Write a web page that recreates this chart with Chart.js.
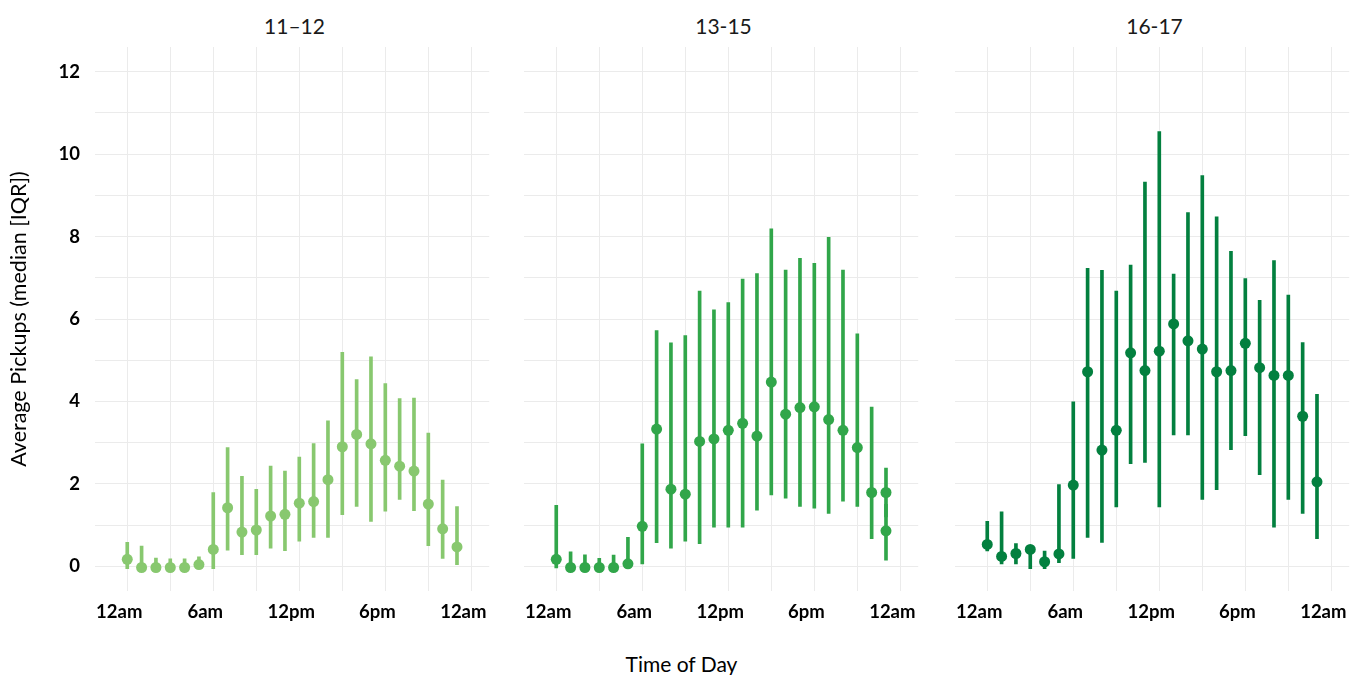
<!DOCTYPE html>
<html lang="en">
<head>
<meta charset="UTF-8">
<title>Average pickups by time of day</title>
<script src="https://cdn.jsdelivr.net/npm/chart.js"></script>
<style>
  body { margin: 0; width: 1351px; height: 675px; overflow: hidden; background: #fff; font-family: Lato, sans-serif; }
  .wrap { position: absolute; top: 0; height: 640px; }
  .facet { position: absolute; top: 13px; font-size: 21px; line-height: 26px; color: #1a1a1a; text-align: center; }
  #xtitle { position: absolute; top: 651px; left: 6px; width: 1351px; text-align: center; font-size: 21px; line-height: 26px; color: #000; }
</style>
</head>
<body>
<div class="facet" style="left:95px;width:399px">11–12</div>
<div class="facet" style="left:524px;width:399px">13-15</div>
<div class="facet" style="left:955px;width:399px">16-17</div>
<div class="wrap" style="left:0;width:505px"><canvas id="c1"></canvas></div>
<div class="wrap" style="left:514px;width:420px"><canvas id="c2"></canvas></div>
<div class="wrap" style="left:945px;width:420px"><canvas id="c3"></canvas></div>
<div id="xtitle">Time of Day</div>
<script>
// hours of the day for each point
const hours = [0,1,2,3,4,5,6,7,8,9,10,11,12,13,14,15,16,17,18,19,20,21,22,23];
const hours2 = [0,1,2,3,4,5,6,7,8,9,10,11,12,13,14,15,16,17,18,19,20,21,22,23,23];

// 11-12
const med1 = [0.17,-0.03,-0.03,-0.03,-0.03,0.04,0.41,1.42,0.83,0.88,1.22,1.26,1.53,1.57,2.10,2.90,3.20,2.97,2.57,2.43,2.31,1.51,0.91,0.47];
const lo1  = [-0.06,-0.03,-0.05,-0.03,-0.03,0.02,-0.06,0.39,0.28,0.28,0.44,0.38,0.61,0.70,0.70,1.25,1.45,1.09,1.34,1.62,1.35,0.50,0.19,0.04];
const hi1  = [0.58,0.49,0.20,0.18,0.18,0.23,1.79,2.88,2.18,1.87,2.43,2.31,2.65,2.98,3.53,5.19,4.53,5.08,4.43,4.07,4.08,3.23,2.09,1.45];

// 13-15 (two values at 11pm)
const med2 = [0.17,-0.03,-0.03,-0.03,-0.03,0.06,0.97,3.33,1.87,1.75,3.03,3.09,3.30,3.47,3.16,4.47,3.69,3.85,3.87,3.56,3.30,2.88,1.79,1.79,0.86];
const lo2  = [-0.04,-0.03,-0.03,-0.03,-0.03,0.04,0.06,0.57,0.44,0.61,0.55,0.95,0.95,0.95,1.36,1.73,1.65,1.45,1.41,1.28,1.58,1.45,0.67,1.20,0.15];
const hi2  = [1.48,0.35,0.28,0.19,0.27,0.70,2.97,5.72,5.42,5.60,6.68,6.22,6.40,6.97,7.10,8.19,7.19,7.47,7.35,7.98,7.19,5.64,3.86,2.38,1.50];

// 16-17
const med3 = [0.53,0.24,0.31,0.41,0.11,0.30,1.97,4.72,2.82,3.30,5.18,4.75,5.22,5.88,5.47,5.27,4.72,4.75,5.41,4.82,4.63,4.63,3.64,2.05];
const lo3  = [0.37,0.06,0.06,-0.06,-0.06,0.09,0.19,0.70,0.58,1.44,2.49,2.52,1.44,3.19,3.19,1.62,1.86,2.83,3.17,2.22,0.95,1.62,1.28,0.67];
const hi3  = [1.09,1.32,0.55,0.41,0.37,1.98,3.99,7.23,7.18,6.68,7.31,9.32,10.55,7.09,8.58,9.48,8.48,7.64,6.98,6.45,7.42,6.58,5.43,4.17];

const xTicks = [0,3,6,9,12,15,18,21,24];
const xLabels = {0:'12am',6:'6am',12:'12pm',18:'6pm',24:'12am'};
const yTicks = [0,1,2,3,4,5,6,7,8,9,10,11,12];
const yLabels = [0,2,4,6,8,10,12];

const gridColor = '#ebebeb';

function makeChart(id, xs, med, lo, hi, color, first, padL, padR) {
  const pts = xs.map((x, i) => ({x: x, y: med[i]}));
  const bars = xs.map((x, i) => ({x: x, y: [lo[i], hi[i]]}));
  return new Chart(document.getElementById(id), {
    type: 'bar',
    data: {
      datasets: [
        {
          type: 'scatter',
          data: pts,
          backgroundColor: color,
          borderColor: color,
          pointRadius: 5.5,
          borderWidth: 0
        },
        {
          type: 'bar',
          data: bars,
          backgroundColor: color,
          barThickness: 3,
          borderWidth: 0
        }
      ]
    },
    options: {
      responsive: true,
      maintainAspectRatio: false,
      animation: false,
      layout: { padding: { top: 47, left: padL, right: padR, bottom: 0 } },
      plugins: { legend: { display: false }, tooltip: { enabled: false } },
      scales: {
        x: {
          type: 'linear',
          min: -2.25,
          max: 25.25,
          offset: false,
          afterBuildTicks: s => { s.ticks = xTicks.map(v => ({value: v})); },
          afterFit: s => { s.height = 49; },
          grid: { color: gridColor, drawTicks: false, offset: false },
          border: { display: false },
          ticks: {
            padding: 10,
            labelOffset: -8,
            color: '#000',
            font: { family: 'Lato', size: 18.5, weight: 'bold' },
            maxRotation: 0,
            autoSkip: false,
            callback: v => xLabels[v] !== undefined ? xLabels[v] : ''
          }
        },
        y: {
          min: -0.6,
          max: 12.6,
          afterBuildTicks: s => { s.ticks = yTicks.map(v => ({value: v})); },
          afterFit: s => { s.width = first ? 95 : 0; },
          grid: { color: gridColor, drawTicks: false },
          border: { display: false },
          title: {
            display: first,
            text: 'Average Pickups (median [IQR])',
            color: '#000',
            font: { family: 'Lato', size: 21.5 },
            padding: { top: 6, bottom: 0 }
          },
          ticks: {
            display: first,
            padding: 15,
            color: '#000',
            font: { family: 'Lato', size: 18.5, weight: 'bold' },
            autoSkip: false,
            callback: v => yLabels.includes(v) ? String(v) : ''
          }
        }
      }
    }
  });
}

makeChart('c1', hours, med1, lo1, hi1, '#88c86f', true, 0, 11);
makeChart('c2', hours2, med2, lo2, hi2, '#31a64a', false, 10, 11);
makeChart('c3', hours, med3, lo3, hi3, '#03803f', false, 10, 11);
</script>
</body>
</html>
